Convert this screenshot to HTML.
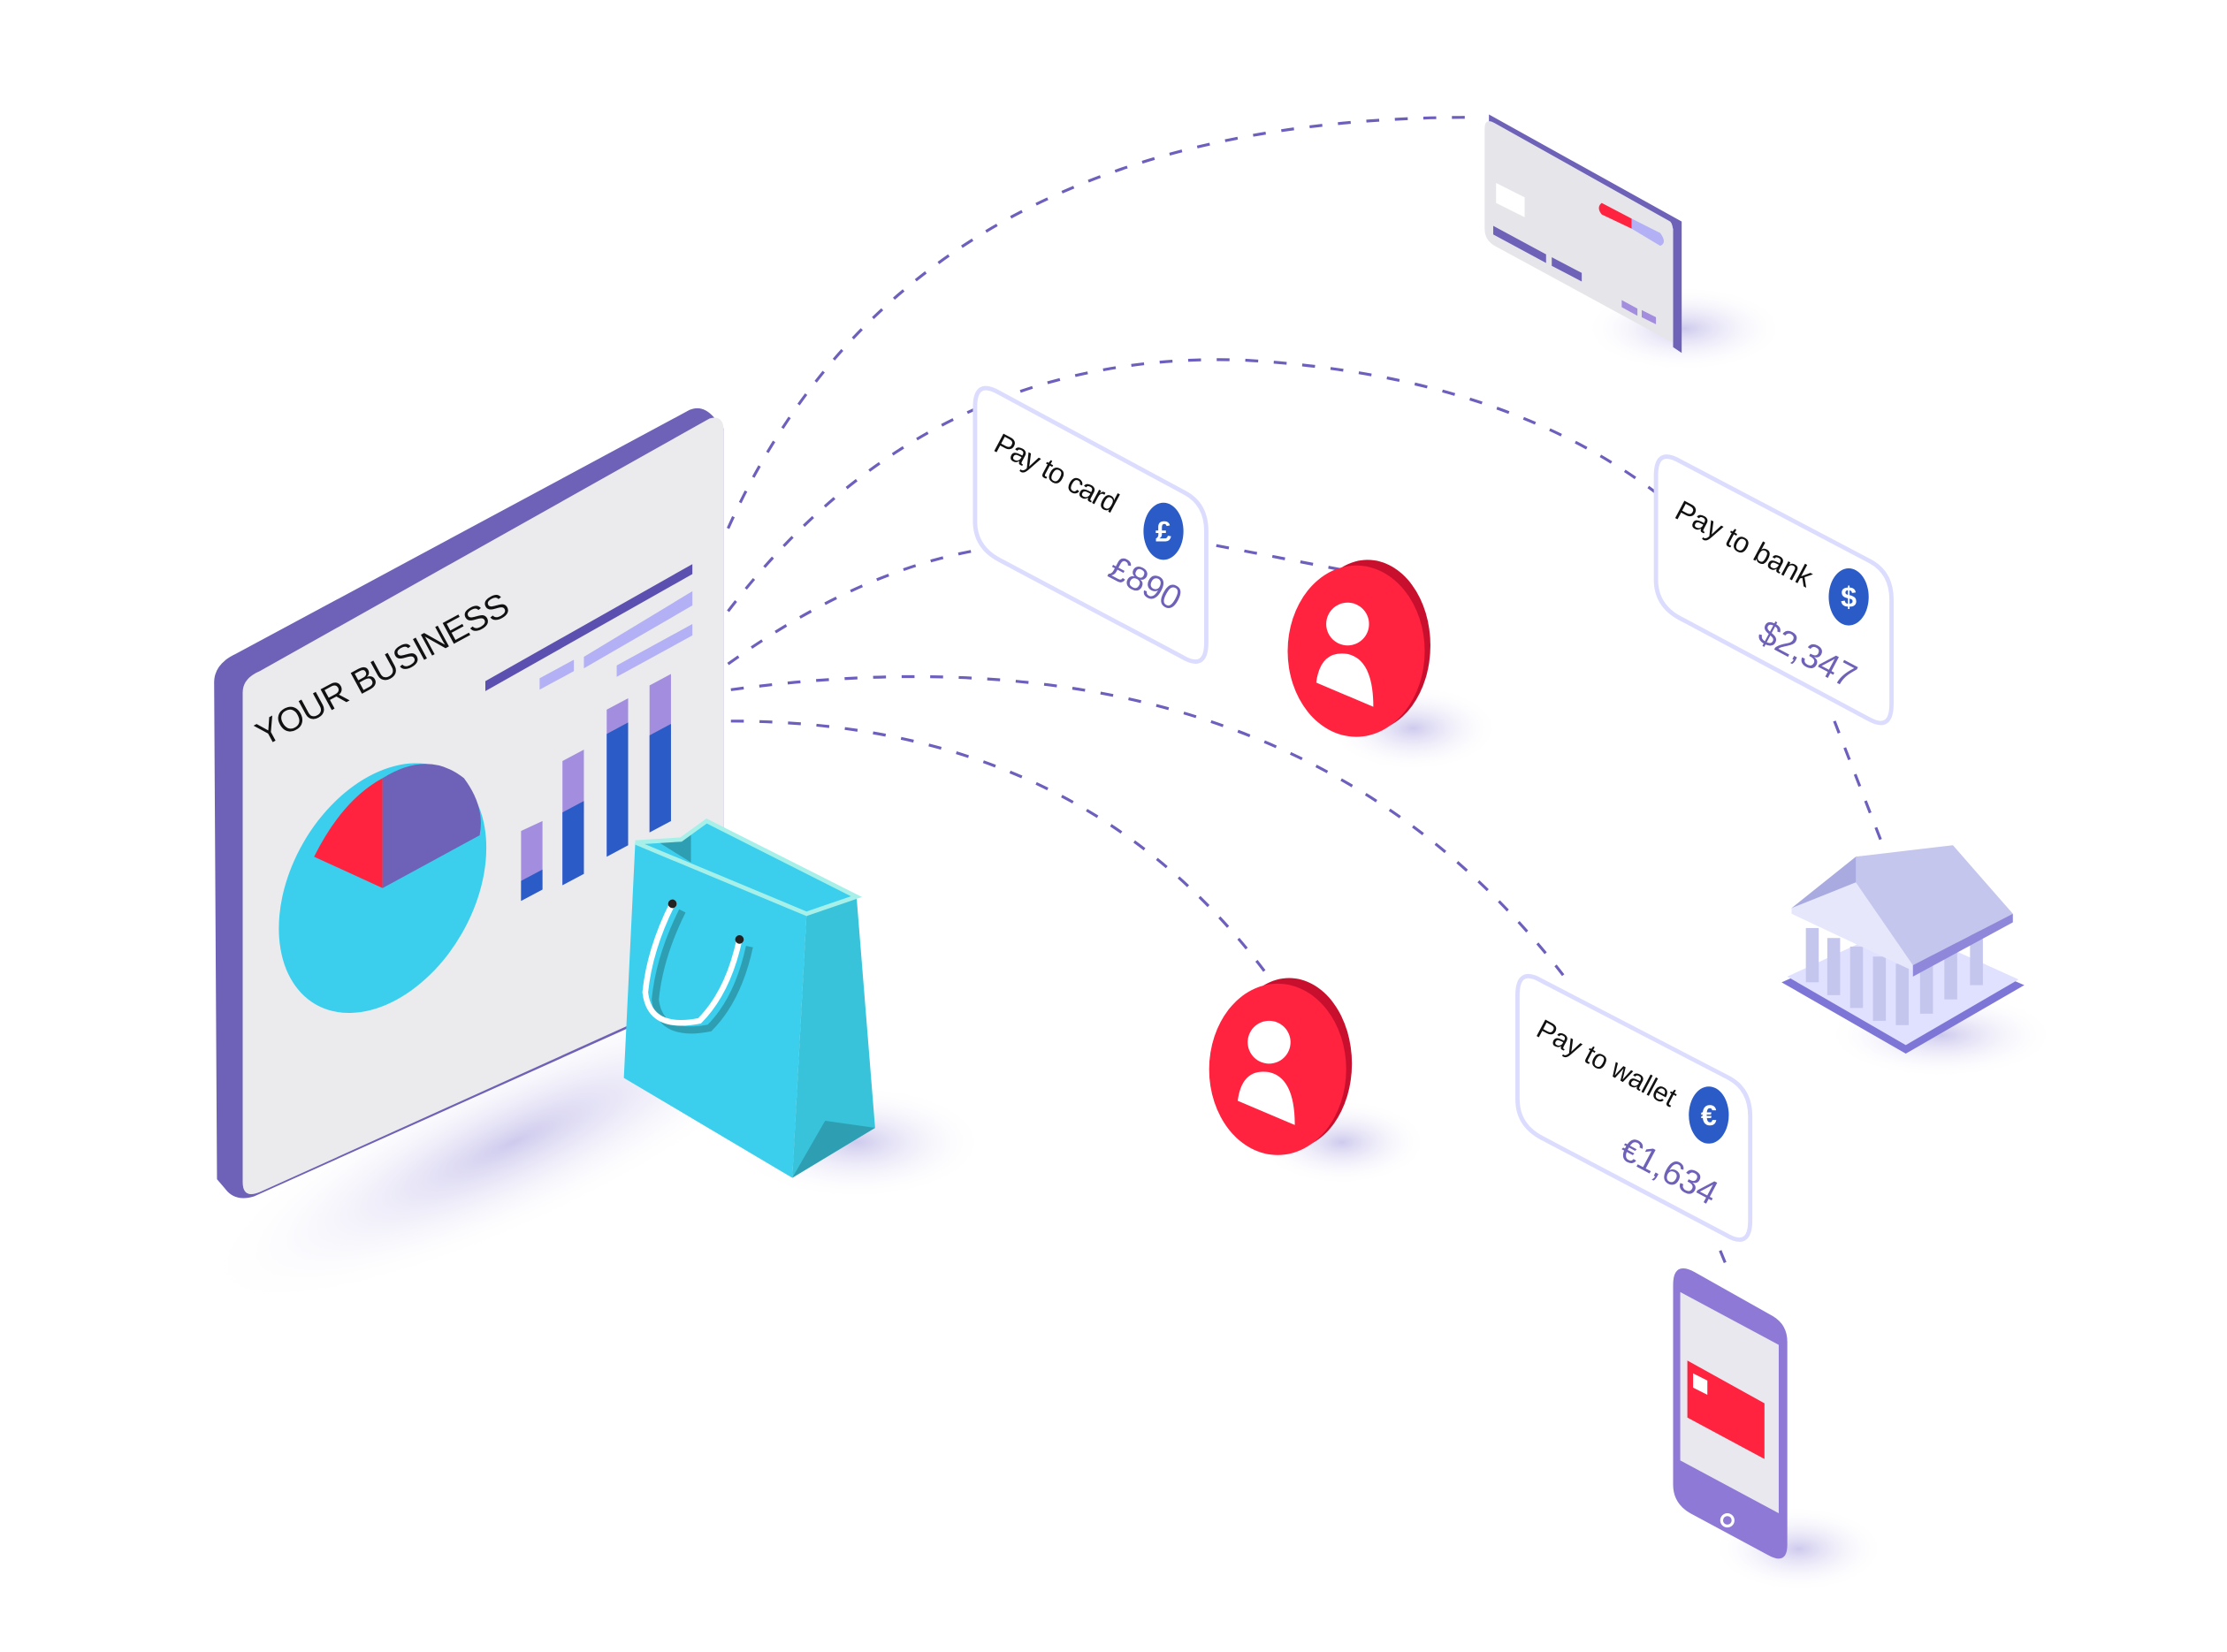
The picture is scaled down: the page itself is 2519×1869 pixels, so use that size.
<!DOCTYPE html>
<html><head><meta charset="utf-8"><style>html,body{margin:0;padding:0;background:#fff}svg{display:block}</style></head>
<body>
<svg width="2519" height="1869" viewBox="0 0 1560 1157" xmlns="http://www.w3.org/2000/svg" font-family="Liberation Sans, sans-serif">
<defs>
<radialGradient id="sh" cx="50%" cy="50%" r="50%"><stop offset="0" stop-color="#b9b3e6" stop-opacity="0.7"/><stop offset="1" stop-color="#fff" stop-opacity="0"/></radialGradient>
</defs>
<ellipse cx="360" cy="800" rx="240" ry="60" fill="url(#sh)" transform="rotate(-25 360 800)"/>
<ellipse cx="600" cy="800" rx="90" ry="40" fill="url(#sh)"/>
<ellipse cx="1180" cy="230" rx="70" ry="30" fill="url(#sh)"/>
<ellipse cx="990" cy="510" rx="60" ry="30" fill="url(#sh)"/>
<ellipse cx="940" cy="800" rx="60" ry="30" fill="url(#sh)"/>
<ellipse cx="1360" cy="725" rx="80" ry="30" fill="url(#sh)"/>
<ellipse cx="1260" cy="1085" rx="60" ry="30" fill="url(#sh)"/>
<g fill="none" stroke="#6c5fbd" stroke-width="2" stroke-dasharray="9 11">
<path d="M510,370 Q640,80 1035,82"/>
<path d="M510,428 Q650,245 870,252 Q1050,262 1160,345"/>
<path d="M510,465 Q600,400 686,385"/>
<path d="M512,483 Q900,430 1095,683"/>
<path d="M512,505 Q760,505 893,690"/>
<path d="M852,382 L945,400"/>
<path d="M1285,505 L1322,600"/>
<path d="M1205,876 L1212,893"/>
</g>
<path d="M150,478 Q150,465 165,458 L483,287 Q492,283 500,292 L507,300 L507,690 L178,838 Q165,842 158,833 L152,826 Z" fill="#6e61b8"/>
<path d="M170,485 Q170,475 182,470 L497,293 Q507,290 507,302 L507,688 L182,835 Q170,840 170,828 Z" fill="#ebebee"/>
<text x="0" y="0" font-size="24" fill="#111" transform="translate(185,523) rotate(-28.5)">YOUR BUSINESS</text>
<polygon points="340,477 485,395 485,402 340,484" fill="#5b50b0"/>
<polygon points="378,475 402,462 402,470 378,483" fill="#b3b0f5"/>
<polygon points="409,460 485,414 485,424 409,468" fill="#b3b0f5"/>
<polygon points="432,466 485,437 485,445 432,474" fill="#b3b0f5"/>
<ellipse cx="268" cy="622" rx="64" ry="94" transform="rotate(30 268 622)" fill="#3bcfed"/>
<path d="M268,622 L220,600 Q240,560 268,545 Z" fill="#ff2340"/>
<path d="M268,622 L268,545 Q300,525 325,545 Q340,565 336,585 Z" fill="#6e61b8"/>
<polygon points="365,582 380,575 380,623 365,631" fill="#a28ddf"/>
<polygon points="365,617 380,609 380,623 365,631" fill="#2a5bc7"/>
<polygon points="394,533 409,525 409,612 394,620" fill="#a28ddf"/>
<polygon points="394,569 409,561 409,612 394,620" fill="#2a5bc7"/>
<polygon points="425,497 440,489 440,592 425,600" fill="#a28ddf"/>
<polygon points="425,514 440,506 440,592 425,600" fill="#2a5bc7"/>
<polygon points="455,480 470,472 470,575 455,583" fill="#a28ddf"/>
<polygon points="455,515 470,507 470,575 455,583" fill="#2a5bc7"/>
<!-- bag -->
<polygon points="445,590 477,588 495,575 600,628 565,640" fill="#3bcfed"/>
<polygon points="460,589 477,588 484,583 484,604" fill="#2e9fb3"/>
<polygon points="445,590 565,640 555,825 437,755" fill="#3bcfed"/>
<polygon points="565,640 600,628 613,790 555,825" fill="#38c3da"/>
<polygon points="555,825 578,785 613,790" fill="#2e9fb3"/>
<polyline points="445,590 477,588 495,575 600,628 565,640 445,590" fill="none" stroke="#a7f0ea" stroke-width="3"/>
<path d="M471,633 Q455,665 452,695 Q455,722 490,715 Q510,695 518,658" fill="none" stroke="#2e9fb3" stroke-width="5" transform="translate(7,5)"/>
<path d="M471,633 Q455,665 452,695 Q455,722 490,715 Q510,695 518,658" fill="none" stroke="#fff" stroke-width="4"/>
<circle cx="471" cy="633" r="3" fill="#222"/><circle cx="518" cy="658" r="3" fill="#222"/>
<!-- credit card -->
<polygon points="1043,80 1178,155 1178,247 1172,243 1172,160 1043,88" fill="#6e61b8"/>
<path d="M1040,90 Q1040,82 1047,86 L1170,155 Q1172,157 1172,163 L1172,240 L1047,172 Q1040,168 1040,160 Z" fill="#e6e6ea"/>
<polygon points="1048,128 1068,138 1068,152 1048,142" fill="#fff"/>
<path d="M1122,142 L1143,153 L1143,160 L1122,150 Q1118,145 1122,142 Z" fill="#ff2340"/>
<path d="M1143,153 L1163,163 Q1168,170 1163,172 L1143,160 Z" fill="#b3b0f5"/>
<polygon points="1046,158 1083,178 1083,184 1046,164" fill="#6e61b8"/>
<polygon points="1087,180 1108,191 1108,197 1087,186" fill="#6e61b8"/>
<polygon points="1136,210 1147,216 1147,221 1136,215" fill="#a28ddf"/>
<polygon points="1150,217 1160,222 1160,227 1150,222" fill="#a28ddf"/>
<g fill="#fff" stroke="#dcdcff" stroke-width="3">
<path d="M683,285 Q683,265 700,275 L830,345 Q845,353 845,372 L845,450 Q845,470 828,460 L700,392 Q683,383 683,365 Z"/>
<path d="M1160,333 Q1160,313 1177,323 L1310,393 Q1325,401 1325,420 L1325,493 Q1325,513 1308,503 L1177,433 Q1160,424 1160,406 Z"/>
<path d="M1063,697 Q1063,677 1080,687 L1211,755 Q1226,763 1226,782 L1226,855 Q1226,875 1209,865 L1080,797 Q1063,788 1063,770 Z"/>
</g>
<g font-size="20">
<text transform="translate(695,315) rotate(28)" fill="#111" textLength="95">Pay to card</text>
<text transform="translate(775,403) rotate(28)" fill="#6e61b8" font-size="24">£890</text>
<text transform="translate(1172,362) rotate(28)" fill="#111">Pay to bank</text>
<text transform="translate(1230,448) rotate(28)" fill="#6e61b8" font-size="24">$2,347</text>
<text transform="translate(1075,725) rotate(28)" fill="#111" font-size="19">Pay to wallet</text>
<text transform="translate(1133,810) rotate(28)" fill="#6e61b8" font-size="24">€1,634</text>
</g>
<g fill="#2a5bc7"><ellipse cx="815" cy="372" rx="14" ry="20"/><ellipse cx="1295" cy="418" rx="14" ry="20"/><ellipse cx="1197" cy="781" rx="14" ry="20"/></g>
<g fill="#fff" font-size="20" text-anchor="middle" font-weight="bold">
<text x="815" y="379">£</text><text x="1295" y="425">$</text><text x="1197" y="788">€</text>
</g>
<ellipse cx="958" cy="452" rx="44" ry="60" fill="#c8102e"/>
<ellipse cx="950" cy="456" rx="48" ry="60" fill="#ff2340"/>
<circle cx="944" cy="437" r="15" fill="#fff"/>
<path d="M922,478 Q925,455 944,458 Q962,462 962,495 Z" fill="#fff"/>
<ellipse cx="903" cy="745" rx="44" ry="60" fill="#c8102e"/>
<ellipse cx="895" cy="749" rx="48" ry="60" fill="#ff2340"/>
<circle cx="889" cy="730" r="15" fill="#fff"/>
<path d="M867,771 Q870,748 889,751 Q907,755 907,788 Z" fill="#fff"/>
<polygon points="1248,688 1330,652 1418,690 1335,738" fill="#7e76d6"/>
<polygon points="1252,684 1330,648 1414,686 1335,732" fill="#e0e0ff"/>
<g fill="#c4c6ee">
<rect x="1265" y="650" width="9" height="38"/><rect x="1280" y="657" width="9" height="40"/><rect x="1296" y="663" width="9" height="43"/><rect x="1312" y="670" width="9" height="45"/><rect x="1328" y="675" width="9" height="43"/><rect x="1345" y="668" width="9" height="42"/><rect x="1362" y="660" width="9" height="40"/><rect x="1380" y="652" width="9" height="38"/>
</g>
<polygon points="1255,636 1300,600 1340,596 1340,676" fill="#a9abe0"/>
<polygon points="1300,600 1368,592 1410,640 1340,676 1300,620" fill="#c4c6ee"/>
<polygon points="1255,636 1300,618 1340,676 1340,680 1255,640" fill="#e6e7fb"/>
<polygon points="1340,676 1410,640 1410,646 1340,684" fill="#8f88da"/>
<path d="M1172,900 Q1172,883 1187,891 L1242,922 Q1252,928 1252,940 L1252,1082 Q1252,1097 1238,1089 L1184,1060 Q1172,1053 1172,1040 Z" fill="#8e79d6"/>
<polygon points="1177,905 1246,942 1246,1060 1177,1023" fill="#e8e8ee"/>
<polygon points="1182,953 1236,983 1236,1022 1182,993" fill="#ff2340"/>
<polygon points="1186,962 1196,967 1196,977 1186,972" fill="#fff"/>
<circle cx="1210" cy="1065" r="4" fill="none" stroke="#fff" stroke-width="2"/>
</svg>
</body></html>
